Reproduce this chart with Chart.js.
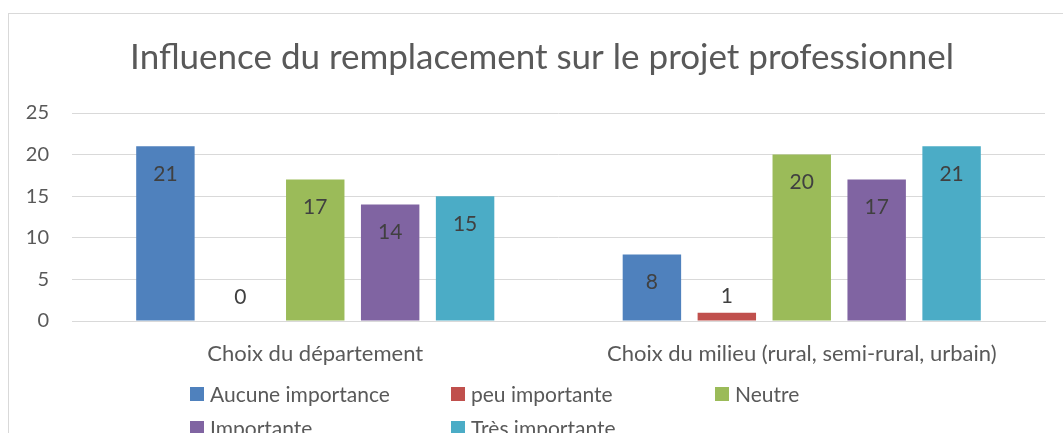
<!DOCTYPE html>
<html><head><meta charset="utf-8">
<script src="https://cdn.jsdelivr.net/npm/chart.js@4"></script>
<style>
html,body{margin:0;padding:0;background:#fff;overflow:hidden;width:1063px;height:433px}
#wrap{position:relative;width:1063px;height:450px}
</style></head>
<body><div id="wrap"><canvas id="c" width="1063" height="450"></canvas></div>
<script>
const categories = ["Choix du département", "Choix du milieu (rural, semi-rural, urbain)"];
const seriesNames = ["Aucune importance", "peu importante", "Neutre", "Importante", "Très importante"];
const aucuneImportance = [21, 8];
const peuImportante = [0, 1];
const neutre = [17, 20];
const importante = [14, 17];
const tresImportante = [15, 21];
const yTicks = [0, 5, 10, 15, 20, 25];
const titleText = "Influence du remplacement sur le projet professionnel";

const seriesValues = [aucuneImportance, peuImportante, neutre, importante, tresImportante];
const seriesColors = ["#4F81BD", "#C0504D", "#9BBB59", "#8064A2", "#4BACC6"];
const FONT = "Lato, 'Open Sans', sans-serif";
const TEXT = "#595959";

const framePlugin = {
  id: 'frame',
  beforeDraw(chart) {
    const ctx = chart.ctx;
    ctx.save();
    ctx.fillStyle = '#fff';
    ctx.fillRect(0, 0, chart.width, chart.height);
    ctx.strokeStyle = '#D9D9D9';
    ctx.lineWidth = 1;
    ctx.strokeRect(8.5, 13.5, 1100, 500);
    ctx.font = "35px " + FONT;
    ctx.fillStyle = TEXT;
    ctx.textAlign = 'center';
    ctx.textBaseline = 'middle';
    ctx.fillText(titleText, 542, 58);
    ctx.restore();
  }
};

const labelPlugin = {
  id: 'vlabels',
  afterDatasetsDraw(chart) {
    const ctx = chart.ctx;
    ctx.save();
    ctx.font = "21px " + FONT;
    ctx.fillStyle = "#404040";
    ctx.textAlign = 'center';
    ctx.textBaseline = 'middle';
    chart.data.datasets.forEach((ds, i) => {
      const meta = chart.getDatasetMeta(i);
      meta.data.forEach((el, j) => {
        const y = Math.min(el.y + 28, el.base - 24);
        ctx.fillText(String(ds.data[j]), el.x, y);
      });
    });
    ctx.restore();
  }
};

const legendPlugin = {
  id: 'customLegend',
  afterDraw(chart) {
    const ctx = chart.ctx;
    const cols = [190, 451, 715];
    const rows = [394, 428];
    ctx.save();
    ctx.font = "21px " + FONT;
    ctx.textBaseline = 'middle';
    ctx.textAlign = 'left';
    chart.data.datasets.forEach((ds, i) => {
      const x = cols[i % 3], y = rows[Math.floor(i / 3)];
      ctx.fillStyle = ds.backgroundColor;
      ctx.fillRect(x, y - 7, 14, 14);
      ctx.fillStyle = TEXT;
      ctx.fillText(ds.label, x + 20, y + 1);
    });
    ctx.restore();
  }
};

new Chart(document.getElementById('c'), {
  type: 'bar',
  data: {
    labels: categories,
    datasets: seriesNames.map((n, i) => ({
      label: n,
      data: seriesValues[i],
      backgroundColor: seriesColors[i],
      borderWidth: 0,
      categoryPercentage: 0.77,
      barPercentage: 0.78
    }))
  },
  options: {
    responsive: false,
    animation: false,
    devicePixelRatio: 1,
    layout: { padding: { top: 113, left: 0, right: 18, bottom: 0 } },
    plugins: {
      legend: { display: false },
      tooltip: { enabled: false },
      title: { display: false }
    },
    scales: {
      x: {
        grid: { display: false },
        border: { display: true, color: '#D9D9D9', width: 1 },
        ticks: { color: TEXT, font: { family: FONT, size: 22 }, padding: 12, maxRotation: 0 },
        afterFit(s) { s.height = 129; }
      },
      y: {
        min: 0, max: 25,
        afterBuildTicks(s) { s.ticks = yTicks.map(v => ({ value: v })); },
        grid: { color: '#D9D9D9', lineWidth: 1, drawTicks: false },
        border: { display: false },
        ticks: { color: TEXT, font: { family: FONT, size: 20 }, padding: 23 },
        afterFit(s) { s.width = 72; }
      }
    }
  },
  plugins: [framePlugin, labelPlugin, legendPlugin]
});
</script>
</body></html>
